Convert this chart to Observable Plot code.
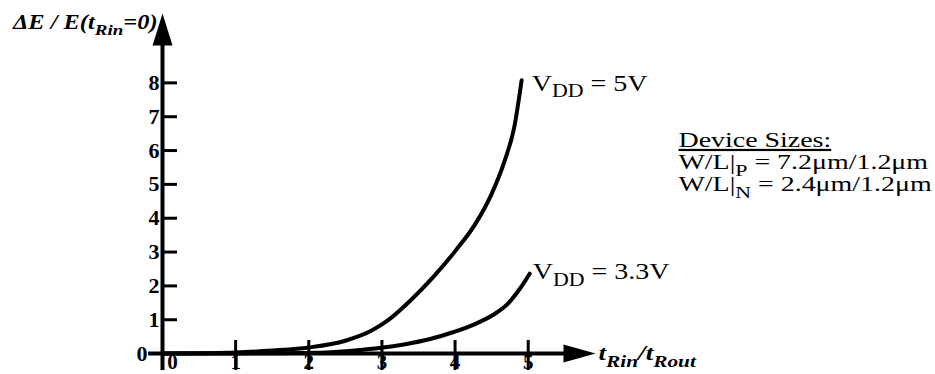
<!DOCTYPE html>
<html><head><meta charset="utf-8">
<script src="https://cdn.jsdelivr.net/npm/d3@7"></script>
<script src="https://cdn.jsdelivr.net/npm/@observablehq/plot@0.6"></script>
<style>
body{margin:0;background:#fff}
#chart svg{display:block}
</style></head><body><div id="chart"></div>
<script>
// ---- data ----
const vdd5X  = [0, 0.5, 1.0, 1.5, 2.0, 2.5, 2.86, 3.08, 3.39, 3.70, 4.01, 4.28, 4.50, 4.68, 4.81, 4.91];
const vdd5Y  = [0, 0.01, 0.03, 0.09, 0.18, 0.38, 0.68, 0.98, 1.57, 2.26, 3.05, 3.84, 4.72, 5.71, 6.70, 8.08];
const vdd33X = [0, 1.0, 1.5, 2.0, 2.23, 2.63, 2.99, 3.30, 3.66, 3.97, 4.28, 4.54, 4.72, 4.90, 5.02];
const vdd33Y = [0, 0.005, 0.01, 0.02, 0.03, 0.09, 0.17, 0.27, 0.43, 0.63, 0.88, 1.17, 1.47, 1.96, 2.36];
const seriesLabels = ["V_{DD} = 5V", "V_{DD} = 3.3V"];
const yTicks = [1, 2, 3, 4, 5, 6, 7, 8];
const yTickLabels = ["1", "2", "3", "4", "5", "6", "7", "8"];
const xTicks = [1, 2, 3, 4, 5];
const xTickLabels = ["1", "2", "3", "4", "5"];
const zeroValue = [0];
const zeroLabel = "0";
const yTitle = "ΔE / E(t_{Rin}=0)";
const xTitle = "t_{Rin}/t_{Rout}";
const deviceLines = ["Device Sizes:", "W/L|_{P} = 7.2μm/1.2μm", "W/L|_{N} = 2.4μm/1.2μm"];

const xDomain = [0, 5.92];
const yDomain = [-0.5, 10.05];

const s5  = vdd5X.map((x, i) => ({x, y: vdd5Y[i]}));
const s33 = vdd33X.map((x, i) => ({x, y: vdd33Y[i]}));
const end5 = [s5[s5.length - 1]];
const end33 = [s33[s33.length - 1]];

const upHead = {draw(ctx) { ctx.moveTo(0, 0); ctx.lineTo(10, 32); ctx.lineTo(-10, 32); ctx.closePath(); }};
const rightHead = {draw(ctx) { ctx.moveTo(0, 0); ctx.lineTo(-32, -9); ctx.lineTo(-32, 9); ctx.closePath(); }};

const serif = "'Liberation Serif', 'Times New Roman', serif";
const W = 935, H = 374, ML = 162, MR = 340, MT = 13, MB = 4;

const chart = Plot.plot({
  width: W, height: H,
  marginLeft: ML, marginRight: MR, marginTop: MT, marginBottom: MB,
  style: {fontFamily: serif, background: "white", color: "black", overflow: "visible"},
  x: {domain: xDomain, axis: null},
  y: {domain: yDomain, axis: null},
  marks: [
    // axis lines with filled arrowheads
    Plot.ruleX(zeroValue, {x: d => d, y1: yDomain[0], y2: 9.5, stroke: "black", strokeWidth: 4}),
    Plot.ruleY(zeroValue, {y: d => d, x1: -0.19, x2: 5.6, stroke: "black", strokeWidth: 4}),
    Plot.dot([{x: 0, y: yDomain[1]}], {x: "x", y: "y", symbol: upHead, fill: "black", stroke: "none"}),
    Plot.dot([{x: xDomain[1], y: 0}], {x: "x", y: "y", symbol: rightHead, fill: "black", stroke: "none"}),
    // y ticks pointing inward, labels on the left
    Plot.tickY(yTicks, {y: d => d, stroke: "black", strokeWidth: 3, insetRight: W - ML - MR - 15}),
    Plot.text(yTicks, {y: d => d, text: (d, i) => yTickLabels[i], frameAnchor: "left", textAnchor: "end", dx: -3, fontSize: 22, fontWeight: "bold"}),
    Plot.text(zeroValue, {x: d => d, y: d => d, text: () => zeroLabel, textAnchor: "end", dx: -15, fontSize: 22, fontWeight: "bold"}),
    // x ticks crossing the axis, labels below
    Plot.tickX(xTicks, {x: d => d, stroke: "black", strokeWidth: 3, insetTop: 327}),
    Plot.text(xTicks, {x: d => d, text: (d, i) => xTickLabels[i], frameAnchor: "bottom", lineAnchor: "top", dy: -16, fontSize: 21, fontWeight: "bold"}),
    Plot.text(zeroValue, {x: d => d, text: () => zeroLabel, frameAnchor: "bottom", lineAnchor: "top", dy: -16, dx: 10, fontSize: 21, fontWeight: "bold"}),
    // curves
    Plot.line(s5, {x: "x", y: "y", stroke: "black", strokeWidth: 4, curve: "monotone-x"}),
    Plot.line(s33, {x: "x", y: "y", stroke: "black", strokeWidth: 4, curve: "monotone-x"}),
    // curve labels
    Plot.text(end5, {x: "x", y: "y", text: () => seriesLabels[0], textAnchor: "start", lineAnchor: "middle", dx: 10, dy: 3, fontSize: 23}),
    Plot.text(end33, {x: "x", y: "y", text: () => seriesLabels[1], textAnchor: "start", lineAnchor: "middle", dx: 3, dy: -2, fontSize: 23}),
    // axis titles
    Plot.text([yTitle], {x: 0, y: yDomain[1], text: d => d, textAnchor: "end", lineAnchor: "top", dx: -5, dy: 1, fontSize: 20, fontWeight: "bold", fontStyle: "italic"}),
    Plot.text([xTitle], {x: xDomain[1], y: 0, text: d => d, textAnchor: "start", lineAnchor: "middle", dx: 3, fontSize: 21, fontWeight: "bold", fontStyle: "italic"}),
    // device sizes note
    ...deviceLines.map((line, i) => Plot.text([line], {frameAnchor: "top-left", text: d => d, dx: 516, dy: 118 + 22 * i, lineAnchor: "top", textAnchor: "start", fontSize: 22}))
  ]
});

document.getElementById("chart").appendChild(chart);

// subscripts, horizontal stretch of the scanned lettering, underline
const NS = "http://www.w3.org/2000/svg";
chart.querySelectorAll("text").forEach(t => {
  const s = t.textContent;
  if (s.includes("_{")) {
    const fs = parseFloat(getComputedStyle(t).fontSize) || 16;
    const parts = s.split(/(_\{[^}]*\})/);
    t.textContent = "";
    let shifted = false;
    for (const p of parts) {
      if (!p) continue;
      const ts = document.createElementNS(NS, "tspan");
      if (p.startsWith("_{")) {
        ts.textContent = p.slice(2, -1);
        ts.setAttribute("font-size", (fs * 0.78).toFixed(1));
        ts.setAttribute("dy", (fs * 0.3).toFixed(1));
        shifted = true;
      } else {
        ts.textContent = p;
        if (shifted) { ts.setAttribute("dy", (-fs * 0.3).toFixed(1)); shifted = false; }
      }
      t.appendChild(ts);
    }
  }
  if (s === deviceLines[0]) t.style.textDecoration = "underline";
  if (!/^\d+$/.test(s)) {
    const k = deviceLines.includes(s) ? 1.27 : s === xTitle ? 1.3 : 1.22;
    const tr = t.getAttribute("transform");
    if (tr) t.setAttribute("transform", tr + ` scale(${k},1)`);
    else {
      const x = +t.getAttribute("x") || 0, y = +t.getAttribute("y") || 0;
      t.setAttribute("x", 0); t.setAttribute("y", 0);
      t.setAttribute("transform", `translate(${x},${y}) scale(${k},1)`);
    }
  }
});
</script>
</body></html>
